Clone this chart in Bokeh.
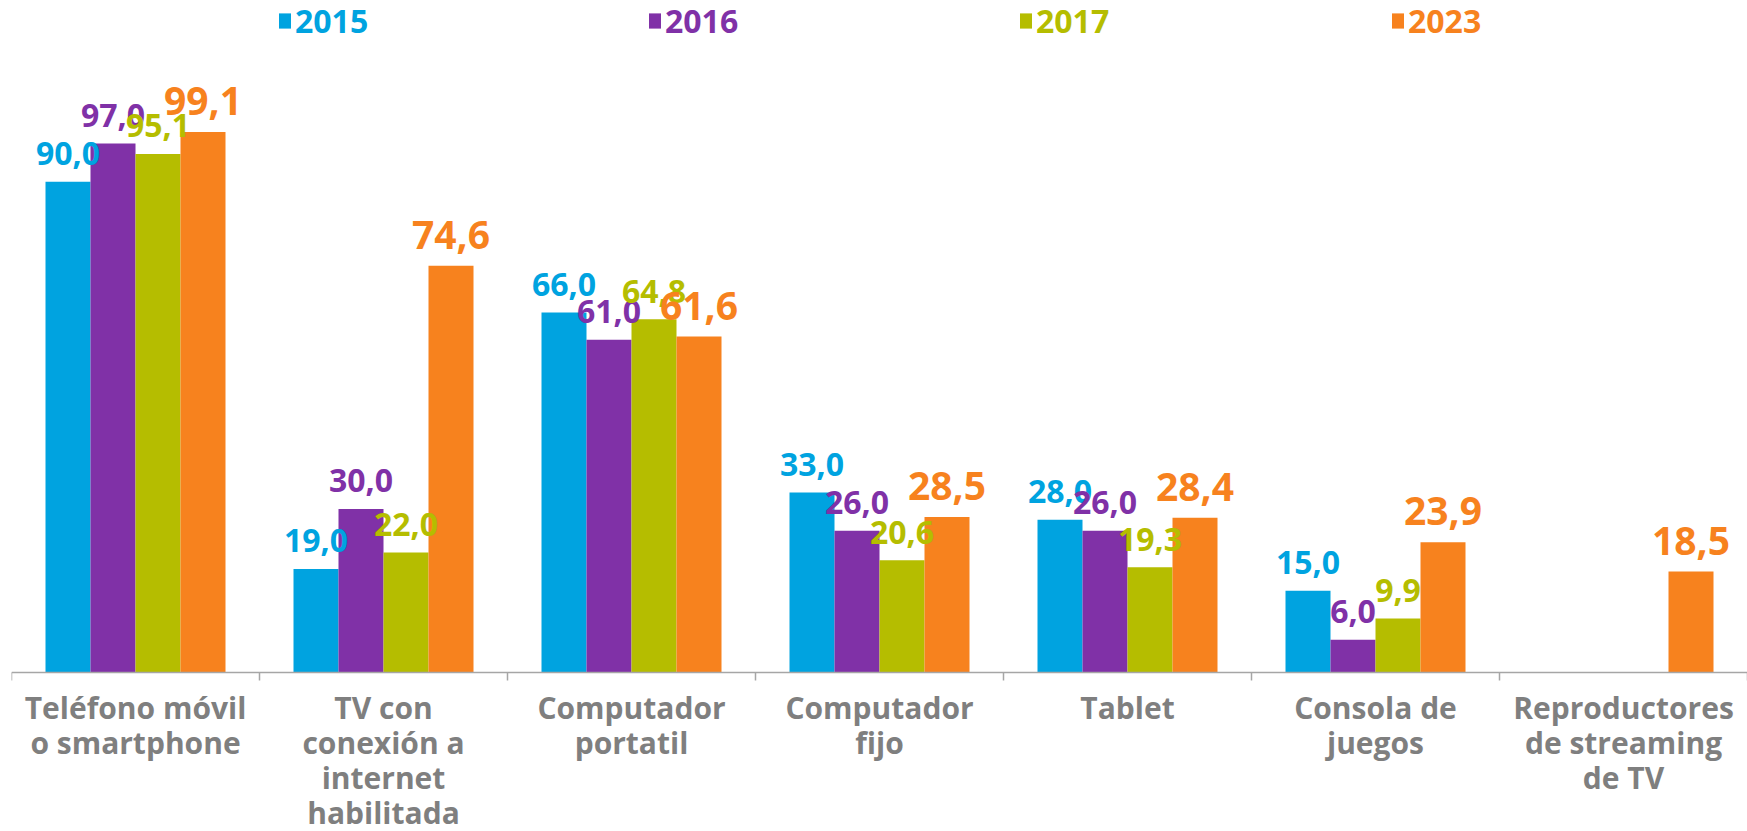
from bokeh.plotting import figure
from bokeh.models import Range1d, ColumnDataSource, Legend, LegendItem, Span
from bokeh.core.properties import value
from bokeh.embed import file_html
from bokeh.resources import INLINE

categories = [
    "Teléfono móvil\no smartphone",
    "TV con\nconexión a\ninternet\nhabilitada",
    "Computador\nportatil",
    "Computador\nfijo",
    "Tablet",
    "Consola de\njuegos",
    "Reproductores\nde streaming\nde TV",
]
years = ["2015", "2016", "2017", "2023"]
v2015 = [90.0, 19.0, 66.0, 33.0, 28.0, 15.0, None]
v2016 = [97.0, 30.0, 61.0, 26.0, 26.0, 6.0, None]
v2017 = [95.1, 22.0, 64.8, 20.6, 19.3, 9.9, None]
v2023 = [99.1, 74.6, 61.6, 28.5, 28.4, 23.9, 18.5]
series = [v2015, v2016, v2017, v2023]
colors = ["#00A3E0", "#8031A7", "#B5BD00", "#F7821E"]

FONT = "Open Sans"
CAT_PX = 248.0
PX_PER_UNIT = 5.453
FRAME_W = 1736
ABOVE_PX = 672      # frame px above the baseline
BELOW_PX = 159      # frame px below the baseline
BAR_W = 45.0 / CAT_PX
TICK_LEN = 8.0 / PX_PER_UNIT
AXIS_COLOR = "#A6A6A6"

p = figure(
    width=1747, height=831,
    x_range=Range1d(0, FRAME_W / CAT_PX),
    y_range=Range1d(-BELOW_PX / PX_PER_UNIT, ABOVE_PX / PX_PER_UNIT),
    output_backend="svg", toolbar_location=None,
    x_axis_location=None, y_axis_location=None,
    min_border_left=11, min_border_right=0, min_border_top=0, min_border_bottom=0,
)
p.outline_line_color = None
p.xgrid.grid_line_color = None
p.ygrid.grid_line_color = None
p.background_fill_color = "white"
p.border_fill_color = "white"

n = len(categories)
centers = [i + 0.5 for i in range(n)]
bounds = list(range(n + 1))

# category axis: baseline, boundary ticks, labels
p.add_layout(Span(location=0, dimension="width", line_color=AXIS_COLOR, line_width=1.5))
p.segment(x0=bounds, y0=[0] * len(bounds), x1=bounds, y1=[-TICK_LEN] * len(bounds),
          line_color=AXIS_COLOR, line_width=1.5)
cat_src = ColumnDataSource(dict(x=centers, y=[0] * n, txt=categories))
p.text(x="x", y="y", text="txt", source=cat_src, y_offset=14,
       text_align="center", text_baseline="top",
       text_color="#7F7F7F", text_font=value(FONT),
       text_font_style="bold", text_font_size="30px", text_line_height=0.86)

legend_x = [266, 636, 1007, 1379]
label_sizes = ["32px", "32px", "32px", "39px"]
label_offsets = [-28, -28, -28, -31]

sources = []
renderers = []
for k, (vals, col) in enumerate(zip(series, colors)):
    off = (k - 1.5) * BAR_W
    xs = [c + off for c, v in zip(centers, vals) if v is not None]
    ys = [v for v in vals if v is not None]
    txt = [f"{v:.1f}".replace(".", ",") for v in ys]
    src = ColumnDataSource(dict(x=xs, top=ys, txt=txt))
    r = p.vbar(x="x", top="top", width=BAR_W, source=src, fill_color=col, line_color=None)
    sources.append(src)
    renderers.append(r)

for k, (yr, col) in enumerate(zip(years, colors)):
    p.text(x="x", y="top", text="txt", source=sources[k], y_offset=label_offsets[k],
           text_align="center", text_baseline="alphabetic",
           text_color=col, text_font=value(FONT), text_font_style="bold",
           text_font_size=label_sizes[k])
    leg = Legend(items=[LegendItem(label=yr, renderers=[renderers[k]])],
                 location=(legend_x[k], 789),
                 label_text_color=col, label_text_font=FONT,
                 label_text_font_style="bold", label_text_font_size="32px",
                 glyph_width=15, glyph_height=19, label_standoff=3,
                 padding=0, margin=0, background_fill_alpha=0,
                 border_line_color=None)
    p.add_layout(leg)

open("out.html", "w").write(file_html(p, INLINE))
